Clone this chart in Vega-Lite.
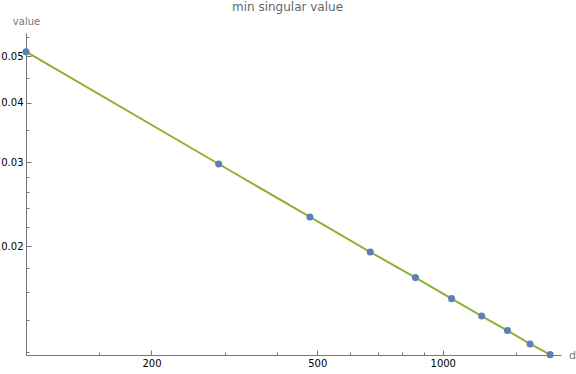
{
  "$schema": "https://vega.github.io/schema/vega-lite/v6.json",
  "autosize": {"type": "none"},
  "width": 535,
  "height": 322,
  "padding": {"left": 26, "top": 33, "right": 15, "bottom": 19},
  "background": "white",
  "title": {
    "text": "min singular value",
    "font": "DejaVu Sans",
    "fontSize": 12,
    "fontWeight": "normal",
    "color": "#666666",
    "anchor": "middle",
    "dx": -6,
    "offset": 2
  },
  "data": {
    "values": [
      {"d": 100, "value": 0.05117},
      {"d": 290, "value": 0.02975},
      {"d": 480, "value": 0.02304},
      {"d": 670, "value": 0.01945},
      {"d": 860, "value": 0.01719},
      {"d": 1050, "value": 0.01553},
      {"d": 1240, "value": 0.01428},
      {"d": 1430, "value": 0.01331},
      {"d": 1620, "value": 0.01248},
      {"d": 1810, "value": 0.01185}
    ]
  },
  "layer": [
    {
      "mark": {"type": "line", "color": "#8FB131", "strokeWidth": 2, "clip": false},
      "encoding": {
        "x": {
          "field": "d",
          "type": "quantitative",
          "scale": {"type": "log", "domain": [100, 1922], "nice": false},
          "axis": {
            "title": "d",
            "orient": "bottom",
            "values": [200, 500, 1000],
            "format": "d",
            "grid": false,
            "tickSize": -5,
            "labelPadding": 8,
            "labelFont": "DejaVu Sans",
            "labelFontSize": 10,
            "labelColor": "#000000",
            "domainColor": "#777777",
            "tickColor": "#777777",
            "titleFont": "DejaVu Sans",
            "titleFontSize": 11,
            "titleFontWeight": "normal",
            "titleColor": "#777777",
            "titleAngle": 0,
            "titleAlign": "center",
            "titleBaseline": "middle",
            "titleX": 546,
            "titleY": 0
          }
        },
        "y": {
          "field": "value",
          "type": "quantitative",
          "scale": {"type": "log", "domain": [0.01183, 0.056], "nice": false},
          "axis": {
            "title": "value",
            "orient": "left",
            "values": [0.02, 0.03, 0.04, 0.05],
            "format": ".2f",
            "grid": false,
            "tickSize": -5,
            "labelPadding": 8,
            "labelFont": "DejaVu Sans",
            "labelFontSize": 10,
            "labelColor": "#000000",
            "domainColor": "#777777",
            "tickColor": "#777777",
            "titleFont": "DejaVu Sans",
            "titleFontSize": 10,
            "titleFontWeight": "normal",
            "titleColor": "#777777",
            "titleAngle": 0,
            "titleAlign": "center",
            "titleBaseline": "middle",
            "titleX": 0,
            "titleY": -12
          }
        }
      }
    },
    {
      "mark": {"type": "circle", "color": "#5E81B5", "size": 50, "opacity": 1, "clip": false},
      "encoding": {
        "x": {
          "field": "d",
          "type": "quantitative",
          "axis": {
            "title": null,
            "orient": "bottom",
            "values": [150, 300, 400, 600, 700, 800, 900, 1500],
            "labels": false,
            "domain": false,
            "grid": false,
            "tickSize": -3,
            "tickColor": "#777777"
          }
        },
        "y": {
          "field": "value",
          "type": "quantitative",
          "axis": {
            "title": null,
            "orient": "left",
            "values": [0.012, 0.014, 0.016, 0.018, 0.022, 0.024, 0.026, 0.028, 0.035, 0.045, 0.055],
            "labels": false,
            "domain": false,
            "grid": false,
            "tickSize": -3,
            "tickColor": "#777777"
          }
        }
      }
    }
  ],
  "resolve": {"axis": {"x": "independent", "y": "independent"}},
  "config": {"view": {"stroke": null}}
}
